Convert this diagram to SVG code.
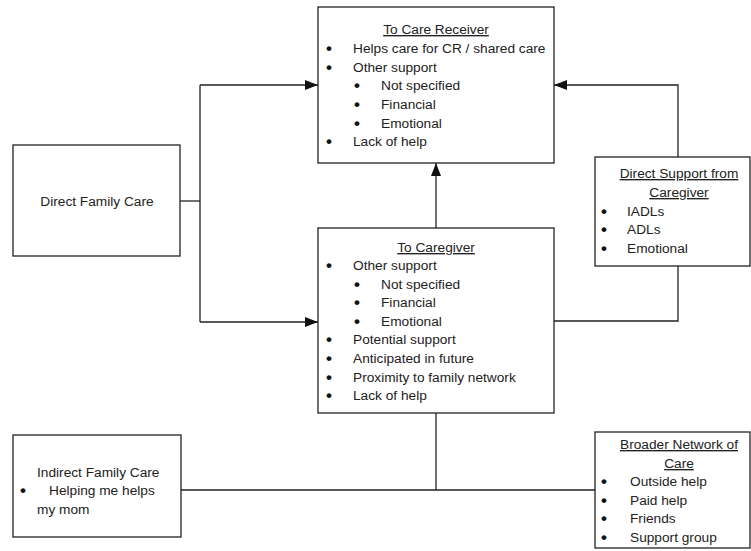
<svg xmlns="http://www.w3.org/2000/svg" width="751" height="551" viewBox="0 0 751 551">
<style>
.box{fill:#fff;stroke:#222;stroke-width:1.3}
.ln{fill:none;stroke:#222;stroke-width:1.3}
text{font-family:"Liberation Sans",Arial,sans-serif;font-size:13.7px;fill:#222}
.t{text-anchor:middle;text-decoration:underline}
.m{text-anchor:middle}
.b{font-size:17px;font-weight:bold;fill:#111}
</style>
<defs>
<marker id="ah" markerUnits="userSpaceOnUse" markerWidth="14" markerHeight="10" refX="13" refY="5" orient="auto">
<path d="M0,0 L13,5 L0,10 Z" fill="#111"/>
</marker>
</defs>
<rect width="751" height="551" fill="#fff"/>
<g id="connectors">
<path class="ln" d="M180,201 H200"/>
<path class="ln" d="M200,85 V322"/>
<path class="ln" d="M200,85 H318" marker-end="url(#ah)"/>
<path class="ln" d="M200,322 H318" marker-end="url(#ah)"/>
<path class="ln" d="M436,228 V163" marker-end="url(#ah)"/>
<path class="ln" d="M678,157 V85 H554" marker-end="url(#ah)"/>
<path class="ln" d="M678,266 V321 H554"/>
<path class="ln" d="M181,490 H595"/>
<path class="ln" d="M436,413 V490"/>
</g>
<g id="care-receiver">
<rect class="box" x="318" y="7" width="236" height="156"/>
<text class="t" x="436" y="34">To Care Receiver</text>
<text class="b" x="326" y="54">•</text><text x="353" y="53">Helps care for CR / shared care</text>
<text class="b" x="326" y="73">•</text><text x="353" y="72">Other support</text>
<text class="b" x="354" y="91">•</text><text x="381" y="90">Not specified</text>
<text class="b" x="354" y="110">•</text><text x="381" y="109">Financial</text>
<text class="b" x="354" y="129">•</text><text x="381" y="128">Emotional</text>
<text class="b" x="326" y="147">•</text><text x="353" y="146">Lack of help</text>
</g>
<g id="caregiver">
<rect class="box" x="318" y="228" width="236" height="185"/>
<text class="t" x="436" y="252">To Caregiver</text>
<text class="b" x="326" y="271">•</text><text x="353" y="270">Other support</text>
<text class="b" x="354" y="290">•</text><text x="381" y="289">Not specified</text>
<text class="b" x="354" y="308">•</text><text x="381" y="307">Financial</text>
<text class="b" x="354" y="327">•</text><text x="381" y="326">Emotional</text>
<text class="b" x="326" y="345">•</text><text x="353" y="344">Potential support</text>
<text class="b" x="326" y="364">•</text><text x="353" y="363">Anticipated in future</text>
<text class="b" x="326" y="383">•</text><text x="353" y="382">Proximity to family network</text>
<text class="b" x="326" y="401">•</text><text x="353" y="400">Lack of help</text>
</g>
<g id="direct-family-care">
<rect class="box" x="13" y="145" width="167" height="111"/>
<text class="m" x="97" y="206">Direct Family Care</text>
</g>
<g id="direct-support">
<rect class="box" x="595" y="157" width="155" height="109"/>
<text class="t" x="679" y="178">Direct Support from</text>
<text class="t" x="679" y="197">Caregiver</text>
<text class="b" x="601" y="217">•</text><text x="627" y="216">IADLs</text>
<text class="b" x="601" y="235">•</text><text x="627" y="234">ADLs</text>
<text class="b" x="601" y="254">•</text><text x="627" y="253">Emotional</text>
</g>
<g id="indirect-family-care">
<rect class="box" x="13" y="435" width="168" height="102"/>
<text x="37" y="477">Indirect Family Care</text>
<text class="b" x="20" y="496">•</text><text x="49" y="495">Helping me helps</text>
<text x="37" y="514">my mom</text>
</g>
<g id="broader-network">
<rect class="box" x="595" y="432" width="155" height="116"/>
<text class="t" x="679" y="449">Broader Network of</text>
<text class="t" x="679" y="468">Care</text>
<text class="b" x="601" y="487">•</text><text x="630" y="486">Outside help</text>
<text class="b" x="601" y="506">•</text><text x="630" y="505">Paid help</text>
<text class="b" x="601" y="524">•</text><text x="630" y="523">Friends</text>
<text class="b" x="601" y="543">•</text><text x="630" y="542">Support group</text>
</g>
</svg>
